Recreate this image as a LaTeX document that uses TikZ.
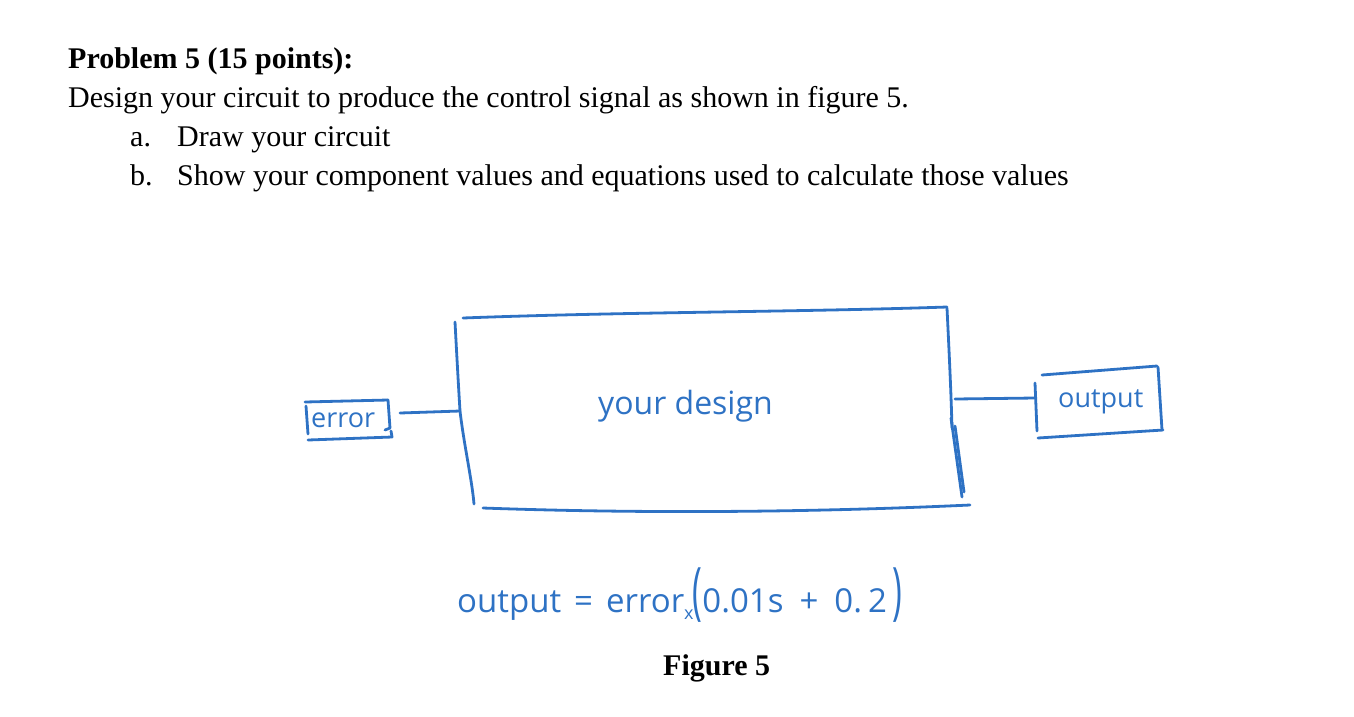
\documentclass[tikz,border=0pt]{standalone}
\usepackage{fontspec}
\setmainfont{Liberation Serif}
\newfontfamily\handfont{Open Sans}
\definecolor{inkblue}{RGB}{46,114,196}
\begin{document}
\begin{tikzpicture}[x=1pt, y=-1pt,
    prose/.style={anchor=base west, inner sep=0pt, font=\fontsize{30}{36}\selectfont},
    scrawl/.style={anchor=base west, inner sep=0pt, text=inkblue},
    hand/.style={inkblue, line width=2.8pt, line cap=round, line join=round}]
    \useasboundingbox (0,0) rectangle (1354,716);
    % problem statement
    \node[prose] (title) at (68,68) {\bfseries Problem 5 (15 points):};
    \node[prose] (task) at (68,107) {Design your circuit to produce the control signal as shown in figure 5.};
    \node[prose] (itema) at (130,146) {a.};
    \node[prose] (texta) at (177,146) {Draw your circuit};
    \node[prose] (itemb) at (130,185) {b.};
    \node[prose] (textb) at (177,185) {Show your component values and equations used to calculate those values};
    % labels written by hand
    \node[scrawl, font=\handfont\fontsize{27}{30}\selectfont] (errlbl) at (311,427) {error};
    \node[scrawl, font=\handfont\fontsize{32}{36}\selectfont] (designlbl) at (598,414) {your design};
    \node[scrawl, font=\handfont\fontsize{27}{30}\selectfont] (outlbl) at (1058,407) {output};
    % error box
    \draw[hand] (305,402) -- (388,400);
    \draw[hand] (388,400) -- (390,428) -- (385,430);
    \draw[hand] (308,440) -- (392,437) -- (391,431);
    \draw[hand] (306,406) -- (308,434);
    % design box
    \draw[hand] (463,318) .. controls (620,312) and (800,312) .. (947,307);
    \draw[hand] (455,322) .. controls (457,360) and (459,395) .. (460,411)
        .. controls (464,445) and (472,480) .. (474,504);
    \draw[hand] (947,308) .. controls (949,350) and (951,390) .. (952,428);
    \draw[hand] (951,418) -- (962,497);
    \draw[hand] (955,426) -- (964,492);
    \draw[hand] (483,508) .. controls (650,514) and (820,512) .. (970,505);
    % output box
    \draw[hand] (1042,375) -- (1157,366);
    \draw[hand] (1158,367) -- (1162,430);
    \draw[hand] (1038,438) -- (1163,430);
    \draw[hand] (1035,383) -- (1037,431);
    % ties into the boxes
    \coordinate (errtie) at (400,413);
    \coordinate (designin) at (460,411);
    \coordinate (designout) at (955,399);
    \coordinate (outtie) at (1035,398);
    \draw[hand] (errtie) -- (designin);
    \draw[hand] (designout) -- (outtie);
    % relation under the box
    \node[scrawl, font=\handfont\fontsize{33}{36}\selectfont] (relation) at (457,612)
        {output\hspace{13pt}=\hspace{13pt}error\raisebox{-7pt}{\fontsize{18}{18}\selectfont x}\hspace{-1pt}\scalebox{1}[1.9]{(}0.01s\hspace{16pt}+\hspace{16pt}0.\hspace{6pt}2\hspace{6pt}\scalebox{1}[1.9]{)}};
    \node[prose] (caption) at (663,675) {\bfseries Figure 5};
\end{tikzpicture}
\end{document}
